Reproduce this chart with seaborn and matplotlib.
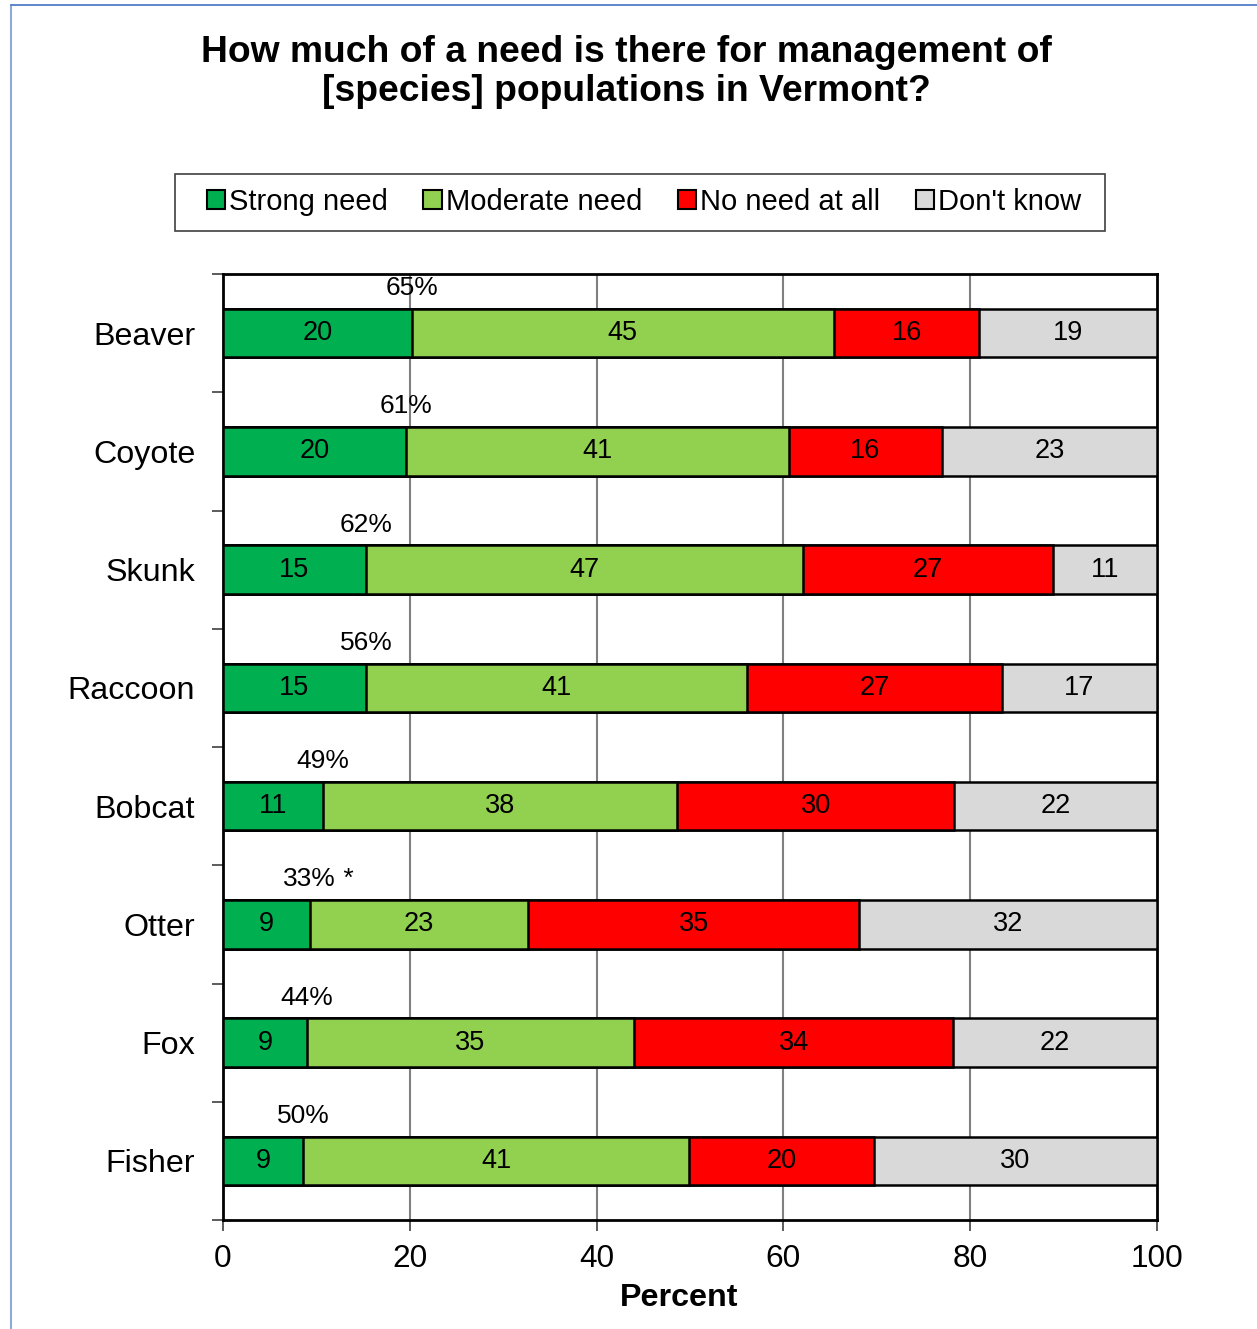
import numpy as np
import pandas as pd
import matplotlib.pyplot as plt
import seaborn as sns
from matplotlib.patches import Patch, Rectangle
from matplotlib.lines import Line2D

species = ['Beaver', 'Coyote', 'Skunk', 'Raccoon', 'Bobcat', 'Otter', 'Fox', 'Fisher']
strong = [20.2, 19.6, 15.3, 15.3, 10.7, 9.3, 9.0, 8.6]
moderate = [45.2, 41.0, 46.8, 40.8, 37.9, 23.4, 35.0, 41.3]
no_need = [15.6, 16.4, 26.8, 27.3, 29.7, 35.4, 34.2, 19.8]
dont_know = [19.0, 23.0, 11.1, 16.6, 21.7, 31.9, 21.8, 30.3]
notes = ['', '', '', '', '', ' *', '', '']

series_names = ['Strong need', 'Moderate need', 'No need at all', "Don't know"]
colors = ['#00B050', '#92D050', '#FF0000', '#D9D9D9']

df = pd.DataFrame({'species': species, 'Strong need': strong, 'Moderate need': moderate,
                   'No need at all': no_need, "Don't know": dont_know})
cum = df[series_names].cumsum(axis=1)

sns.set_theme(style='white')
plt.rcParams['font.family'] = ['Liberation Sans', 'DejaVu Sans']
plt.rcParams['text.color'] = 'black'
plt.rcParams['xtick.color'] = 'black'
plt.rcParams['ytick.color'] = 'black'
plt.rcParams['axes.labelcolor'] = 'black'

fig = plt.figure(figsize=(12.57, 13.29), dpi=100)
ax = fig.add_axes([0.1774, 0.0820, 0.743, 0.7118])

# draw cumulative bars from the largest total down so segments stack
for name, col in reversed(list(zip(series_names, colors))):
    sns.barplot(x=cum[name], y=df['species'], orient='h', color=col, width=0.41,
                edgecolor='black', linewidth=1.8, saturation=1, ax=ax, zorder=3)

# segment value labels
for i, sp in enumerate(species):
    left = 0
    for name in series_names:
        v = df.loc[i, name]
        ax.text(left + v / 2, i, '%.0f' % v, ha='center', va='center', fontsize=19.5,
                color='black', zorder=5)
        left += v
    tot = strong[i] + moderate[i]
    t = ax.text(strong[i], i - 0.38, '%.0f%%' % tot, ha='center', va='center',
                fontsize=19, color='black', zorder=5)
    if notes[i]:
        ax.annotate(notes[i], xy=(1, 0.5), xycoords=t, va='center', ha='left',
                    fontsize=19, color='black')

ax.set_xlim(0, 100)
ax.set_ylim(len(species) - 0.5, -0.5)
ax.set_xticks([0, 20, 40, 60, 80, 100])
ax.tick_params(axis='x', labelsize=22.8, length=8, width=1.2, direction='out',
               bottom=True, color='#404040', pad=9)
ax.set_yticks(np.arange(len(species) + 1) - 0.5)
ax.set_yticklabels([])
ax.set_yticks(np.arange(len(species)), minor=True)
ax.set_yticklabels(species, minor=True)
ax.tick_params(axis='y', which='major', length=8, width=1.2, left=True, color='#404040')
ax.tick_params(axis='y', which='minor', length=0, labelsize=23.2, pad=20)
ax.set_ylabel('')
ax.set_xlabel('Percent', fontsize=23.2, fontweight='bold', labelpad=6)
ax.xaxis.set_label_coords(0.488, -0.067)

ax.grid(False)
for x in [20, 40, 60, 80]:
    ax.axvline(x, color='#808080', linewidth=1.5, zorder=1)
for s in ax.spines.values():
    s.set_color('black')
    s.set_linewidth(2)

handles = [Patch(facecolor=c, edgecolor='black', linewidth=1.5, label=n)
           for n, c in zip(series_names, colors)]
leg = fig.legend(handles=handles, loc='center', bbox_to_anchor=(0.5123, 0.848), ncol=4,
                 fontsize=21, frameon=False,
                 handlelength=0.62, handleheight=0.62, handletextpad=0.14,
                 columnspacing=1.23)
# legend frame box
fig.add_artist(Rectangle((175 / 1257, 1 - 231 / 1329), 930 / 1257, 57 / 1329,
                         transform=fig.transFigure, fill=False, edgecolor='#404040',
                         linewidth=1.2))

fig.text(0.4985, 0.946, 'How much of a need is there for management of\n[species] populations in Vermont?',
         ha='center', va='center', fontsize=26.8, fontweight='bold', linespacing=1.15)

# outer border lines
fig.add_artist(Line2D([11 / 1257, 11 / 1257], [0, 1 - 5 / 1329], color='#8EAADB',
                      linewidth=1.5, transform=fig.transFigure))
fig.add_artist(Line2D([11 / 1257, 1], [1 - 5 / 1329, 1 - 5 / 1329], color='#4472C4',
                      linewidth=1.2, transform=fig.transFigure))

fig.savefig('out.png', dpi=100, facecolor='white')
